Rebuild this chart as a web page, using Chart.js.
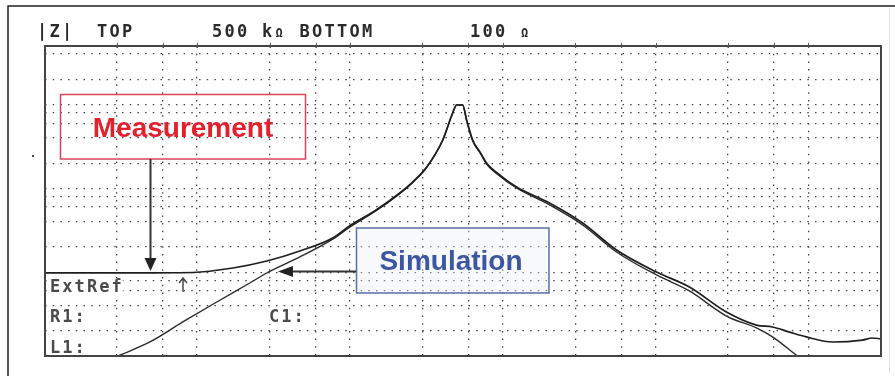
<!DOCTYPE html>
<html>
<head>
<meta charset="utf-8">
<script src="https://cdn.jsdelivr.net/npm/chart.js@4.4.1/dist/chart.umd.min.js"></script>
<style>
  html, body { margin: 0; padding: 0; background: #fff; }
  canvas { display: block; }
</style>
</head>
<body>
<canvas id="chart" width="895" height="376"></canvas>
<script>
// axis ranges (Hz, ohm)
const freqMin = 340;
const freqMax = 1e8;
const zMin = 100;
const zMax = 500000;

// dotted grid positions
const freqGrid = [1e3, 2e3, 3.35e3, 1e4, 2e4, 3.35e4, 1e5, 2e5, 3.35e5, 1e6, 2e6, 3.35e6, 1e7, 2e7, 3.35e7];
const zGrid = [200, 400, 600, 800, 1e3, 2e3, 4e3, 6e3, 8e3, 1e4, 2e4, 4e4, 6e4, 8e4, 1e5, 2e5, 4e5];

// measured |Z|
const freqMeas = [340, 1050, 3150, 5760, 9600, 15800, 25900, 33500, 49000, 71100, 88000, 106700, 135800, 157800, 167500,
  183400, 194800, 213300, 240000, 263000, 320000, 413000, 679000, 1117000, 1862000, 3400000, 5580000, 9750000,
  15300000, 19500000, 25200000, 32500000, 48100000, 75500000, 87700000, 100000000];
const zMeas = [980, 980, 992, 1122, 1360, 1791, 2560, 3580, 5400, 8810, 12300, 18000, 37800, 79400, 98900,
  98900, 65500, 37800, 26500, 20100, 14500, 10400, 6695, 3865, 1841, 1005, 666, 335,
  234, 222, 193, 169, 147, 155, 164, 160];

// simulated |Z|
const freqSim = [1020, 1650, 2710, 4520, 7430, 9600, 15800, 25900, 33500, 49000, 71100, 88000, 106700,
  135800, 157800, 167500, 183400, 194800, 213300, 240000, 263000, 320000, 413000, 679000, 1117000, 1862000,
  3400000, 5580000, 9750000, 15300000, 19500000, 28400000];
const zSim = [100, 147, 255, 441, 743, 978, 1519, 2480, 3450, 5300, 8650, 12100, 17750,
  37300, 79400, 98900, 98900, 63700, 36800, 26000, 19550, 14100, 10100, 6340, 3660, 1742,
  926, 597, 300, 216, 169, 100];

// header and on-screen labels of the analyzer
const headerText = [['|Z|', 37], ['TOP', 97], ['500 kΩ BOTTOM', 212], ['100 Ω', 470]];
const screenLabels = [['ExtRef', 50, 292], ['R1:', 50, 322], ['C1:', 269, 322], ['L1:', 50, 353]];

function toPoints(xs, ys) {
  return xs.map((x, i) => ({ x: x, y: ys[i] }));
}

function drawMono(ctx, str, x, y, pitch) {
  for (let i = 0; i < str.length; i++) {
    const ch = str[i];
    if (ch === 'Ω') {
      ctx.save();
      ctx.font = 'bold 12px "DejaVu Sans Mono"';
      ctx.fillText(ch, x + i * pitch + 1, y);
      ctx.restore();
    } else {
      ctx.fillText(ch, x + i * pitch, y);
    }
  }
}

function arrowHead(ctx, tipX, tipY, dir) {
  ctx.beginPath();
  if (dir === 'down') {
    ctx.moveTo(tipX, tipY);
    ctx.lineTo(tipX - 6, tipY - 13);
    ctx.lineTo(tipX + 6, tipY - 13);
  } else {
    ctx.moveTo(tipX, tipY);
    ctx.lineTo(tipX + 15, tipY - 5.5);
    ctx.lineTo(tipX + 15, tipY + 5.5);
  }
  ctx.closePath();
  ctx.fill();
}

const screenDecor = {
  id: 'screenDecor',
  beforeDatasetsDraw(chart) {
    const ctx = chart.ctx;
    ctx.save();
    ctx.font = 'bold 17px "DejaVu Sans Mono"';
    ctx.textBaseline = 'alphabetic';
    screenLabels.forEach(([txt, x, y]) => {
      ctx.fillStyle = '#fff';
      ctx.fillRect(x - 1, y - 14, txt.length * 12.3, 16);
      ctx.fillStyle = '#4a4a4a';
      drawMono(ctx, txt, x, y, 12.3);
    });
    // small up-arrow marker next to ExtRef
    ctx.strokeStyle = '#4a4a4a';
    ctx.lineWidth = 1.5;
    ctx.beginPath();
    ctx.moveTo(183, 292);
    ctx.lineTo(183, 279);
    ctx.moveTo(179, 283);
    ctx.lineTo(183, 278);
    ctx.lineTo(187, 283);
    ctx.stroke();
    ctx.restore();
  },
  afterDraw(chart) {
    const ctx = chart.ctx;
    const a = chart.chartArea;
    const xs = chart.scales.x;
    ctx.save();

    // outer frame
    ctx.strokeStyle = '#222';
    ctx.lineWidth = 1.5;
    ctx.beginPath();
    ctx.moveTo(895, 6);
    ctx.lineTo(8, 6);
    ctx.lineTo(8, 376);
    ctx.stroke();
    ctx.strokeStyle = '#ddd';
    ctx.lineWidth = 1;
    ctx.beginPath();
    ctx.moveTo(889.5, 8);
    ctx.lineTo(889.5, 373);
    ctx.stroke();

    // plot border
    ctx.strokeStyle = '#444';
    ctx.lineWidth = 2;
    ctx.strokeRect(a.left, a.top, a.right - a.left, a.bottom - a.top);

    // small ticks on the top border
    ctx.lineWidth = 1;
    ctx.strokeStyle = '#555';
    freqGrid.forEach(f => {
      const px = Math.round(xs.getPixelForValue(f)) + 0.5;
      ctx.beginPath();
      ctx.moveTo(px, a.top - 3);
      ctx.lineTo(px, a.top + 2);
      ctx.stroke();
    });

    // marker dot left of the plot
    ctx.fillStyle = '#444';
    ctx.fillRect(32, 155, 2, 2);

    // header
    ctx.fillStyle = '#2a2a2a';
    ctx.font = 'bold 17px "DejaVu Sans Mono"';
    headerText.forEach(([txt, x]) => drawMono(ctx, txt, x, 37, 12.5));

    // Measurement callout
    ctx.strokeStyle = '#d9435a';
    ctx.lineWidth = 1.5;
    ctx.strokeRect(60.5, 94.5, 245, 64.5);
    ctx.fillStyle = '#e3202e';
    ctx.font = 'bold 28px "Liberation Sans", Arial, sans-serif';
    ctx.textAlign = 'center';
    ctx.fillText('Measurement', 183, 137);

    ctx.strokeStyle = '#333';
    ctx.fillStyle = '#222';
    ctx.lineWidth = 2;
    ctx.beginPath();
    ctx.moveTo(150.5, 159);
    ctx.lineTo(150.5, 260);
    ctx.stroke();
    arrowHead(ctx, 150.5, 271, 'down');

    // Simulation callout
    ctx.fillStyle = 'rgba(232, 238, 250, 0.35)';
    ctx.fillRect(356, 228, 193, 65);
    ctx.strokeStyle = '#5a6ea8';
    ctx.lineWidth = 1.5;
    ctx.strokeRect(356.5, 228, 192.5, 65);
    ctx.fillStyle = '#3c56a2';
    ctx.font = 'bold 28px "Liberation Sans", Arial, sans-serif';
    ctx.fillText('Simulation', 451, 270);

    ctx.strokeStyle = '#333';
    ctx.fillStyle = '#222';
    ctx.lineWidth = 2;
    ctx.beginPath();
    ctx.moveTo(356, 271.5);
    ctx.lineTo(290, 271.5);
    ctx.stroke();
    arrowHead(ctx, 278, 271.5, 'left');

    ctx.restore();
  }
};

new Chart(document.getElementById('chart'), {
  type: 'line',
  data: {
    datasets: [
      {
        label: 'Measurement',
        data: toPoints(freqMeas, zMeas),
        borderColor: '#1e1e1e',
        borderWidth: 1.7,
        pointRadius: 0,
        cubicInterpolationMode: 'monotone'
      },
      {
        label: 'Simulation',
        data: toPoints(freqSim, zSim),
        borderColor: '#2a2a2a',
        borderWidth: 1.4,
        pointRadius: 0,
        cubicInterpolationMode: 'monotone'
      }
    ]
  },
  options: {
    responsive: false,
    animation: false,
    devicePixelRatio: 1,
    layout: { padding: { left: 45, right: 14, top: 46, bottom: 20 } },
    plugins: { legend: { display: false }, tooltip: { enabled: false } },
    scales: {
      x: {
        type: 'logarithmic',
        min: freqMin,
        max: freqMax,
        afterBuildTicks: s => { s.ticks = freqGrid.map(v => ({ value: v })); },
        ticks: { display: false },
        grid: { color: '#444', lineWidth: 1.3, drawTicks: false },
        border: { display: false, dash: [1.5, 6.2] }
      },
      y: {
        type: 'logarithmic',
        min: zMin,
        max: zMax,
        afterBuildTicks: s => { s.ticks = zGrid.map(v => ({ value: v })); },
        ticks: { display: false },
        grid: { color: '#444', lineWidth: 1.3, drawTicks: false },
        border: { display: false, dash: [1.5, 6.2] }
      }
    }
  },
  plugins: [screenDecor]
});
</script>
</body>
</html>
